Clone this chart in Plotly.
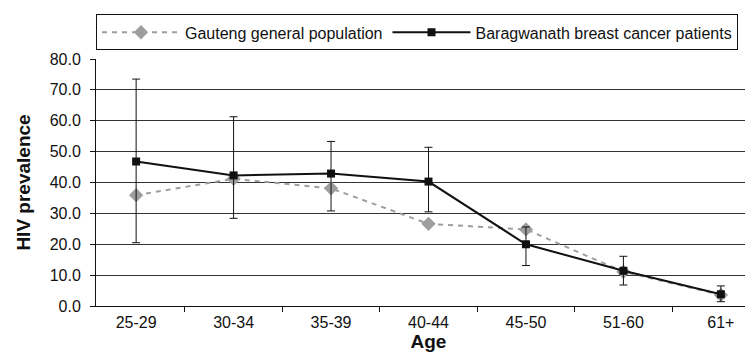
import plotly.graph_objects as go

ages = ["25-29", "30-34", "35-39", "40-44", "45-50", "51-60", "61+"]
gauteng = [35.9, 41.2, 38.1, 26.6, 24.8, 11.1, 3.6]
bara = [46.8, 42.3, 42.9, 40.3, 20.0, 11.4, 3.8]
bara_upper = [73.5, 61.3, 53.3, 51.4, 25.6, 16.1, 6.5]
bara_lower = [20.5, 28.4, 30.8, 30.5, 13.1, 6.8, 1.4]
yticks = [0, 10, 20, 30, 40, 50, 60, 70, 80]

err_plus = [u - v for u, v in zip(bara_upper, bara)]
err_minus = [v - l for v, l in zip(bara, bara_lower)]

fig = go.Figure()
fig.add_trace(go.Scatter(
    x=ages, y=gauteng, name="Gauteng general population",
    mode="lines+markers",
    line=dict(color="#9e9e9e", width=2, dash="5px,5px"),
    marker=dict(symbol="diamond", size=11, color="#9e9e9e"),
))
fig.add_trace(go.Scatter(
    x=ages, y=bara, name="Baragwanath breast cancer patients",
    mode="lines+markers",
    line=dict(color="#111111", width=2),
    marker=dict(symbol="square", size=8, color="#111111"),
    error_y=dict(type="data", symmetric=False, array=err_plus, arrayminus=err_minus,
                 color="#111111", thickness=1, width=4),
))

fig.update_layout(
    width=753, height=352,
    margin=dict(l=88, r=0, t=51, b=54),
    paper_bgcolor="white", plot_bgcolor="white",
    font=dict(family="Liberation Sans", size=16, color="#111111"),
    legend=dict(orientation="h", x=0, xanchor="left", y=1.035, yanchor="bottom",
                bordercolor="#111111", borderwidth=1, font=dict(size=16),
                tracegroupgap=0, itemwidth=78),
    xaxis=dict(type="category", showline=True, linecolor="#111111", linewidth=1,
               ticks="outside", tickson="boundaries", ticklen=5, tickcolor="#111111",
               showgrid=False, tickfont=dict(size=16), ticklabelstandoff=2,
               title=dict(text="<b>Age</b>", font=dict(size=19), standoff=0)),
    yaxis=dict(range=[0, 80], tickvals=yticks, tickformat=".1f",
               showline=True, linecolor="#111111", linewidth=1,
               ticks="outside", ticklen=5, tickcolor="#111111",
               gridcolor="#333333", gridwidth=1, zeroline=False, tickfont=dict(size=16),
               ticklabelstandoff=6,
               title=dict(text="<b>HIV prevalence</b>", font=dict(size=19), standoff=14)),
)

fig.write_html("out.html")
